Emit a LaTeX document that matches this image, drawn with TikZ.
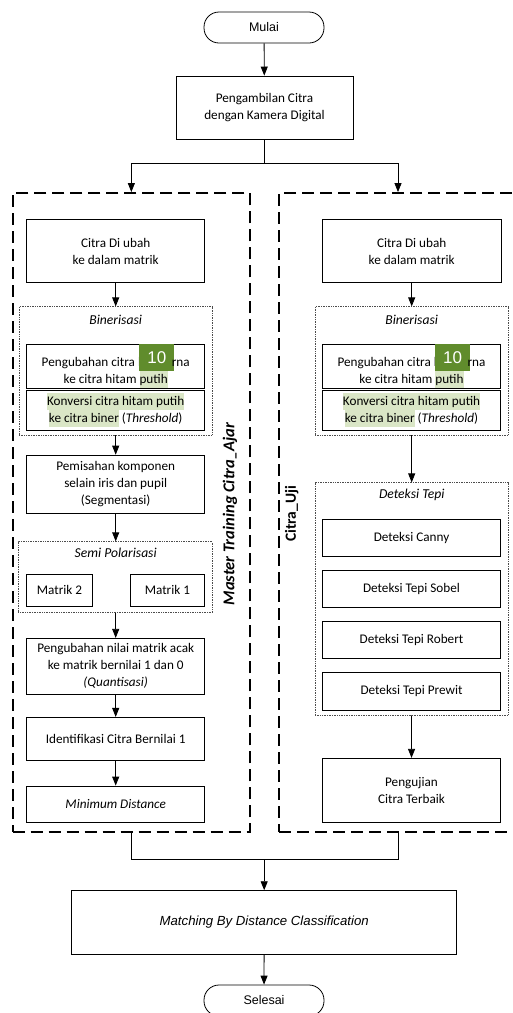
\documentclass[tikz,border=0pt]{standalone}
\usepackage{fontspec}
\setmainfont{Carlito}
\newfontfamily\arialf{Liberation Sans}
\usetikzlibrary{arrows.meta}
\definecolor{hl}{RGB}{218,230,198}
\definecolor{badgec}{RGB}{96,140,44}
\newcommand\hlt[1]{{\setlength\fboxsep{0pt}\colorbox{hl}{\strut #1}}}
\newcommand\badgebox{\raisebox{-4.7pt}{\setlength\fboxsep{0pt}\colorbox{badgec}{\makebox[35pt]{\rule{0pt}{26.7pt}\raisebox{7.5pt}{\arialf\fontsize{17}{17}\selectfont\color{white}10}}}}}
\newcommand\badge{\llap{\badgebox\hspace{-2.5pt}}}
\tikzset{
  box/.style={draw, line width=0.8pt, align=center, inner sep=0pt, font=\fontsize{13.2}{17}\selectfont},
  term/.style={draw, line width=0.8pt, rounded corners=15pt, inner sep=0pt, minimum width=120pt, minimum height=31pt, font=\arialf\fontsize{12.5}{15}\selectfont},
  dotbox/.style={draw=black!70, densely dotted, line width=0.7pt, inner sep=0pt},
  cont/.style={draw, line width=1.8pt, dash pattern=on 12pt off 6pt, inner sep=0pt},
  grplabel/.style={font=\itshape\fontsize{13.6}{15}\selectfont, inner sep=0pt},
  arr/.style={-{Triangle[length=9pt,width=7pt]}, line width=0.8pt},
  conn/.style={line width=0.8pt}
}
\begin{document}
\begin{tikzpicture}[x=1pt,y=-1pt]
\useasboundingbox (0,0) rectangle (512,1013);
% start
\node[term] (mulai) at (264,27.5) {Mulai};
\node[box, minimum width=177pt, minimum height=63pt] (ambil) at (264.5,107.5) {Pengambilan Citra\\dengan Kamera Digital};
% containers
\node[cont, minimum width=237.3pt, minimum height=639pt] (lc) at (131.35,512.5) {};
\node[cont, minimum width=238pt, minimum height=639pt] (rc) at (398,512.5) {};
\node[rotate=90, font=\bfseries\itshape\fontsize{16.5}{16}\selectfont, inner sep=0pt] (lbl) at (230,514) {Master Training Citra\_Ajar};
\node[rotate=90, font=\bfseries\fontsize{15.5}{16}\selectfont, inner sep=0pt] (rlbl) at (291.7,514) {Citra\_Uji};
% left column
\node[box, minimum width=178pt, minimum height=63.4pt] (l1) at (115.7,251) {Citra Di ubah\\ke dalam matrik};
\node[dotbox, minimum width=193.3pt, minimum height=128.3pt] (lbin) at (115.7,370.9) {};
\node[grplabel] (lbint) at (115.7,320) {Binerisasi};
\node[box, minimum width=178pt, minimum height=39.3pt] (lpu) at (115.7,366.4) {Pengubahan citra berwa\badge rna\\ke citra hitam \hlt{putih}};
\node[box, minimum width=178pt, minimum height=39.3pt] (lkv) at (115.7,410.4) {\hlt{Konversi citra hitam putih}\\\hlt{ke citra biner} (\textit{Threshold})};
\node[box, minimum width=178pt, minimum height=58.3pt] (lseg) at (115.7,484.2) {Pemisahan komponen\\selain iris dan pupil\\(Segmentasi)};
\node[dotbox, minimum width=194pt, minimum height=71pt] (lsemi) at (115.3,577.2) {};
\node[grplabel] (lsemit) at (115.7,553) {Semi Polarisasi};
\node[box, minimum width=65.6pt, minimum height=32pt] (lm2) at (59.5,590) {Matrik 2};
\node[box, minimum width=74.7pt, minimum height=32pt] (lm1) at (167.4,590) {Matrik 1};
\node[box, minimum width=178pt, minimum height=56pt] (lq) at (115.7,666.3) {Pengubahan nilai matrik acak\\ke matrik bernilai 1 dan 0\\\textit{(Quantisasi)}};
\node[box, minimum width=178pt, minimum height=42.7pt] (lid) at (115.7,738.7) {Identifikasi Citra Bernilai 1};
\node[box, minimum width=178pt, minimum height=36pt] (lmd) at (115.7,804) {\textit{Minimum Distance}};
% right column
\node[box, minimum width=178.7pt, minimum height=63.4pt] (r1) at (411.7,251) {Citra Di ubah\\ke dalam matrik};
\node[dotbox, minimum width=193.3pt, minimum height=128.3pt] (rbin) at (411.7,370.9) {};
\node[grplabel] (rbint) at (411.7,320) {Binerisasi};
\node[box, minimum width=178.4pt, minimum height=39.3pt] (rpu) at (411.5,366.4) {Pengubahan citra berwa\badge rna\\ke citra hitam \hlt{putih}};
\node[box, minimum width=178.4pt, minimum height=39.3pt] (rkv) at (411.5,410.4) {\hlt{Konversi citra hitam putih}\\\hlt{ke citra biner} (\textit{Threshold})};
\node[dotbox, minimum width=193.3pt, minimum height=232.3pt] (rdt) at (411.7,598.9) {};
\node[grplabel] (rdtt) at (411.7,495) {Deteksi Tepi};
\node[box, minimum width=178.4pt, minimum height=37.7pt] (rc1) at (411.5,537.9) {Deteksi Canny};
\node[box, minimum width=178.4pt, minimum height=37.7pt] (rc2) at (411.5,588.9) {Deteksi Tepi Sobel};
\node[box, minimum width=178.4pt, minimum height=37.7pt] (rc3) at (411.5,640) {Deteksi Tepi Robert};
\node[box, minimum width=178.4pt, minimum height=37.7pt] (rc4) at (411.5,691.2) {Deteksi Tepi Prewit};
\node[box, minimum width=178.4pt, minimum height=64pt] (rpeng) at (411.5,790.3) {Pengujian\\Citra Terbaik};
% bottom
\node[box, minimum width=385pt, minimum height=63.3pt, font=\arialf\itshape\fontsize{13.2}{15}\selectfont] (match) at (264.2,922.3) {Matching By Distance Classification};
\node[term] (selesai) at (264,1000.5) {Selesai};
% connectors
\draw[arr] (mulai) -- (ambil);
\coordinate (split) at (264.5,163);
\draw[conn] (ambil.south) -- (split);
\draw[arr] (split) -| (lc.north);
\draw[arr] (split) -| (rc.north);
\draw[arr] (l1) -- (lbin);
\draw[arr] (lbin) -- (lseg);
\draw[arr] (lseg) -- (lsemi.north -| lseg.south);
\draw[arr] (lsemi.south -| lq.north) -- (lq);
\draw[arr] (lq) -- (lid);
\draw[arr] (lid) -- (lmd);
\draw[arr] (r1) -- (rbin);
\draw[arr] (rbin) -- (rdt);
\draw[arr] (rdt) -- (rpeng);
\coordinate (join) at (264.2,859.3);
\draw[conn] (lc.south) |- (join) -| (rc.south);
\draw[arr] (join) -- (match);
\draw[arr] (match) -- (selesai);
\end{tikzpicture}
\end{document}
